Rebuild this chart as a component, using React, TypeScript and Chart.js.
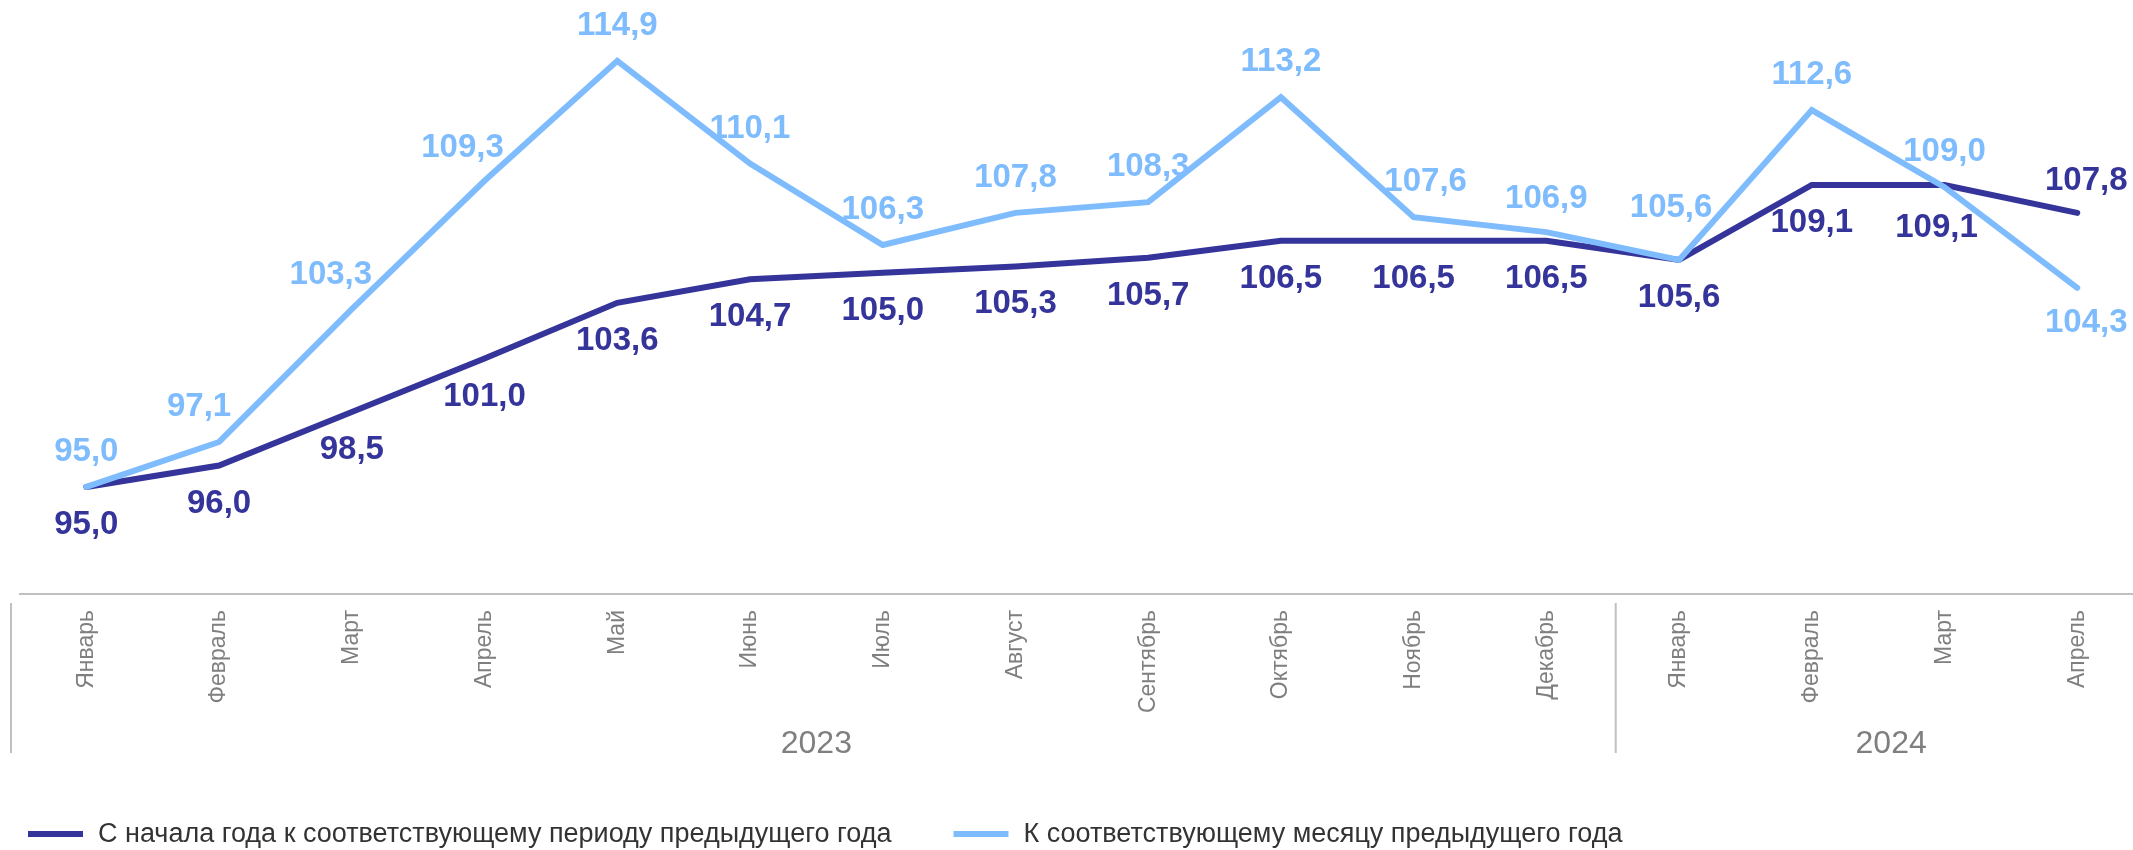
import React, { useEffect, useRef } from "react";
import { Chart, registerables } from "chart.js";

Chart.register(...registerables);

// ---- data ----
const months = [
  "Январь", "Февраль", "Март", "Апрель", "Май", "Июнь", "Июль", "Август",
  "Сентябрь", "Октябрь", "Ноябрь", "Декабрь", "Январь", "Февраль", "Март", "Апрель",
];
const years = ["2023", "2024"];
const monthsPerYear = [12, 4];
const seriesNames = [
  "С начала года к соответствующему периоду предыдущего года",
  "К соответствующему месяцу предыдущего года",
];
const sinceYearStart = [95.0, 96.0, 98.5, 101.0, 103.6, 104.7, 105.0, 105.3, 105.7, 106.5, 106.5, 106.5, 105.6, 109.1, 109.1, 107.8];
const vsSameMonth = [95.0, 97.1, 103.3, 109.3, 114.9, 110.1, 106.3, 107.8, 108.3, 113.2, 107.6, 106.9, 105.6, 112.6, 109.0, 104.3];

// ---- style ----
const DARK = "#34349a";
const LIGHT = "#7ebcfd";
const GRAY = "#7f7f7f";
const AXIS = "#c0c0c0";
const FONT = "'Liberation Sans', Arial, sans-serif";

// label placement: default vertical offset per dataset, plus nudges [dx, dy] keyed "dataset:index"
const labelDy = [38, -35];
const labelNudges: Record<string, [number, number]> = {
  "1:1": [-20, 0],
  "1:2": [-21, 1],
  "1:3": [-22, 2],
  "1:10": [12, 0],
  "1:11": [0, 2],
  "1:12": [-8, -17],
  "1:15": [9, 70],
  "0:14": [-8, 5],
  "0:15": [9, -70],
};
const yearNudge = [0, 13];

const fmt = (v: number) => v.toFixed(1).replace(".", ",");

const overlayPlugin = {
  id: "overlay",
  afterDatasetsDraw(chart: any) {
    const ctx = chart.ctx;
    ctx.save();
    ctx.font = `bold 33px ${FONT}`;
    ctx.textAlign = "center";
    ctx.textBaseline = "middle";
    chart.data.datasets.forEach((ds: any, di: number) => {
      const meta = chart.getDatasetMeta(di);
      ctx.fillStyle = ds.borderColor;
      meta.data.forEach((pt: any, i: number) => {
        const n = labelNudges[`${di}:${i}`] || [0, 0];
        ctx.fillText(fmt(ds.data[i].y), pt.x + n[0], pt.y + labelDy[di] + n[1]);
      });
    });
    ctx.restore();
  },
  afterDraw(chart: any) {
    const ctx = chart.ctx;
    const xs = chart.scales.x;
    const axisY = chart.chartArea.bottom;
    ctx.save();
    // group separators
    ctx.strokeStyle = AXIS;
    ctx.lineWidth = 2;
    const seps = [xs.getPixelForValue(-0.5) - 9, xs.getPixelForValue(monthsPerYear[0] - 0.5) + 3];
    seps.forEach((x) => {
      ctx.beginPath();
      ctx.moveTo(x, axisY + 9);
      ctx.lineTo(x, axisY + 159);
      ctx.stroke();
    });
    // year labels
    ctx.fillStyle = GRAY;
    ctx.font = `32px ${FONT}`;
    ctx.textAlign = "center";
    ctx.textBaseline = "middle";
    let start = 0;
    years.forEach((y, k) => {
      const end = start + monthsPerYear[k] - 1;
      const cx = (xs.getPixelForValue(start) + xs.getPixelForValue(end)) / 2 + yearNudge[k];
      ctx.fillText(y, cx, axisY + 150);
      start = end + 1;
    });
    // legend
    ctx.font = `27px ${FONT}`;
    ctx.textAlign = "left";
    let lx = 28;
    const ly = 834;
    chart.data.datasets.forEach((ds: any) => {
      ctx.fillStyle = ds.borderColor;
      ctx.fillRect(lx, ly - 3, 55, 6);
      ctx.fillStyle = "#333333";
      const tx = lx + 55 + 15;
      ctx.fillText(ds.label, tx, ly + 1);
      lx = tx + ctx.measureText(ds.label).width + 62;
    });
    ctx.restore();
  },
};

export default function App() {
  const ref = useRef<HTMLCanvasElement>(null);
  useEffect(() => {
    const canvas = ref.current!;
    const chart = new Chart(canvas, {
      type: "line",
      data: {
        datasets: [
          {
            label: seriesNames[0],
            data: sinceYearStart.map((v, i) => ({ x: i, y: v })),
            borderColor: DARK,
            backgroundColor: DARK,
            borderWidth: 6,
            pointRadius: 0,
            tension: 0,
            borderJoinStyle: "miter",
            borderCapStyle: "round",
            order: 2,
          },
          {
            label: seriesNames[1],
            data: vsSameMonth.map((v, i) => ({ x: i, y: v })),
            borderColor: LIGHT,
            backgroundColor: LIGHT,
            borderWidth: 6,
            pointRadius: 0,
            tension: 0,
            borderJoinStyle: "miter",
            borderCapStyle: "round",
            order: 1,
          },
        ],
      },
      options: {
        responsive: false,
        animation: false,
        layout: { padding: { left: 20, right: 0, top: 0, bottom: 0 } },
        plugins: { legend: { display: false }, tooltip: { enabled: false } },
        scales: {
          x: {
            type: "linear",
            min: -0.5,
            max: 15.42,
            afterBuildTicks: (s: any) => {
              s.ticks = months.map((_, i) => ({ value: i }));
            },
            afterFit: (s: any) => {
              s.height = 256;
            },
            grid: { display: true, drawOnChartArea: false, drawTicks: false },
            border: { display: true, color: AXIS, width: 2 },
            ticks: {
              autoSkip: false,
              minRotation: 90,
              maxRotation: 90,
              padding: 16,
              color: GRAY,
              font: { family: FONT, size: 23 },
              callback: (v: any) => months[v as number] ?? "",
            },
          },
          y: { display: false, min: 90, max: 117.74 },
        },
      },
      plugins: [overlayPlugin],
    });
    return () => chart.destroy();
  }, []);
  return (
    <div style={{ position: "absolute", left: 0, top: 0, width: 2133, height: 850, background: "#fff" }}>
      <canvas ref={ref} width={2133} height={850} style={{ display: "block", width: 2133, height: 850 }} />
    </div>
  );
}
